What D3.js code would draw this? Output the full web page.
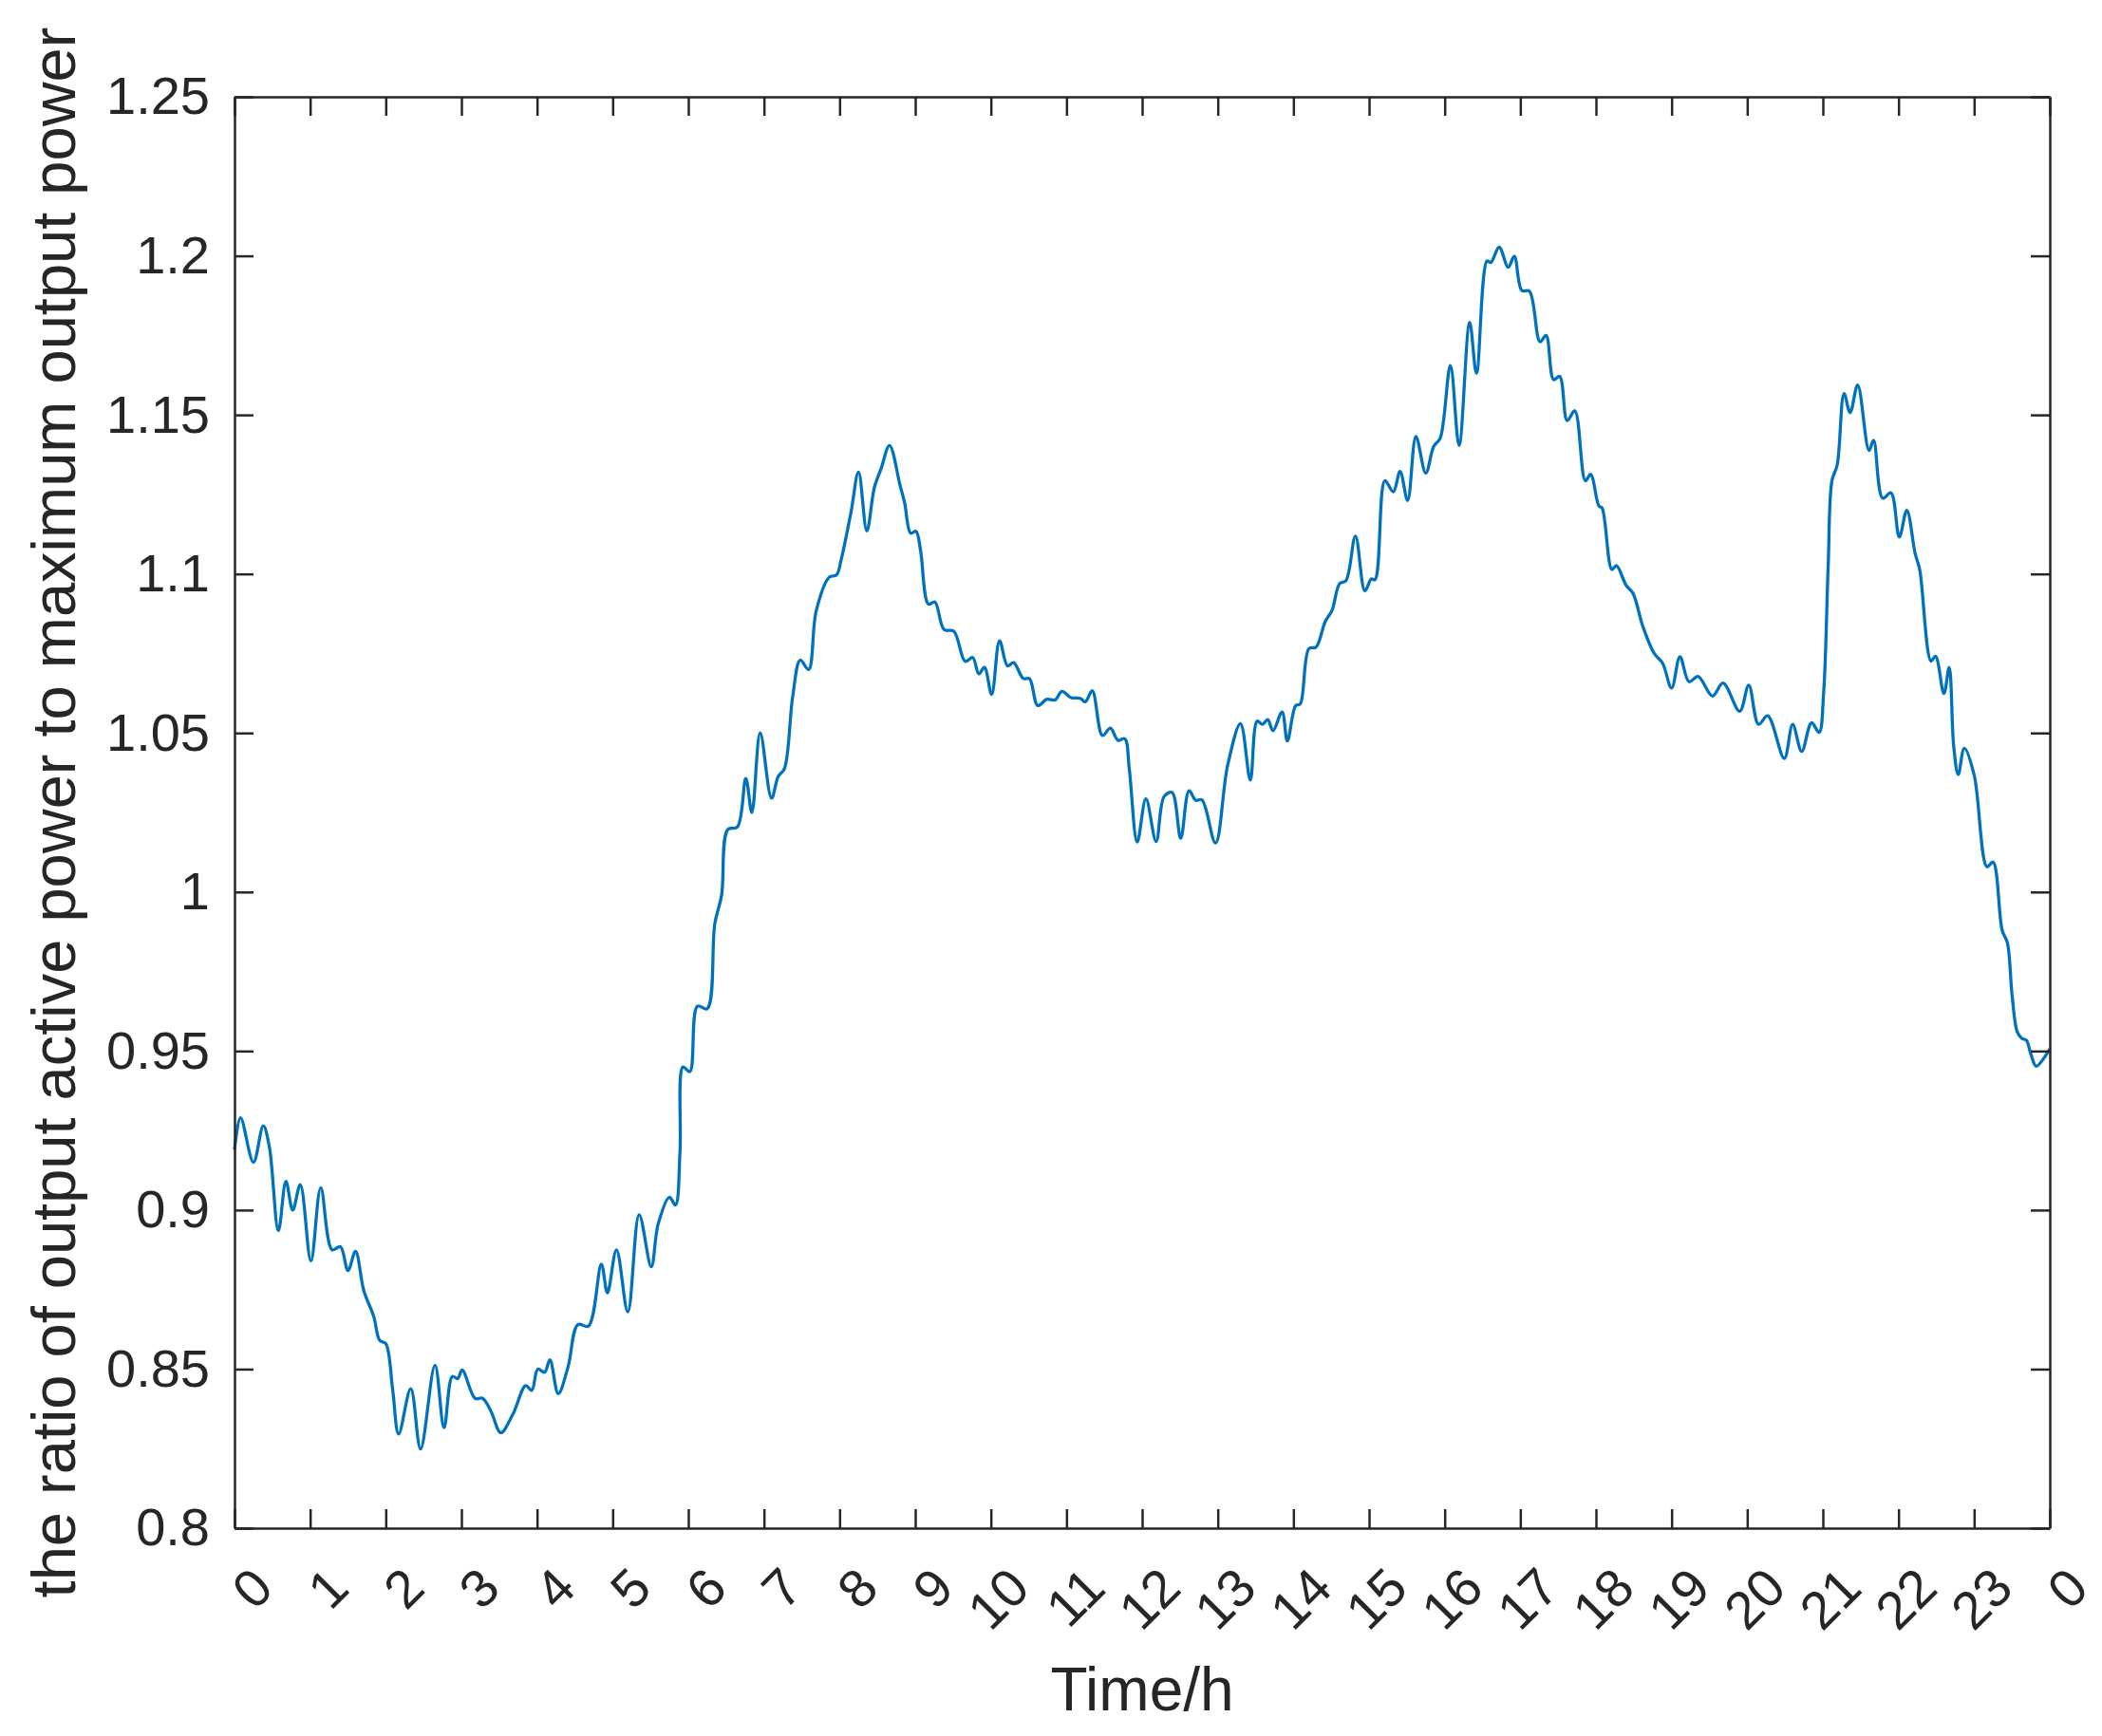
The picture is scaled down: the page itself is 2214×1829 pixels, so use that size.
<!DOCTYPE html>
<html>
<head>
<meta charset="utf-8">
<script src="https://cdn.jsdelivr.net/npm/d3@7"></script>
<style>
  html, body { margin: 0; padding: 0; background: #fff; }
  svg { display: block; font-family: "Liberation Sans", Arial, Helvetica, sans-serif; }
</style>
</head>
<body>
<div id="chart"></div>
<script>
// hours of the day and ratio values
const hours = [
  0.00, 0.08, 0.25, 0.38, 0.46, 0.58, 0.68, 0.77, 0.87, 1.01, 1.14, 1.29, 1.40, 1.50, 1.60, 1.71,
  1.84, 1.92, 2.00, 2.09, 2.17, 2.33, 2.46, 2.65, 2.77, 2.88, 2.95, 3.01, 3.18, 3.28, 3.39, 3.52,
  3.68, 3.85, 3.93, 4.01, 4.10, 4.17, 4.28, 4.41, 4.54, 4.68, 4.85, 4.93, 5.05, 5.20, 5.35, 5.51,
  5.60, 5.75, 5.83, 5.89, 5.93, 6.02, 6.12, 6.25, 6.35, 6.44, 6.52, 6.65, 6.76, 6.84, 6.95, 7.10,
  7.19, 7.27, 7.38, 7.48, 7.59, 7.69, 7.86, 7.96, 8.02, 8.15, 8.25, 8.36, 8.46, 8.55, 8.66, 8.80,
  8.86, 8.94, 9.01, 9.07, 9.175, 9.26, 9.38, 9.51, 9.66, 9.76, 9.84, 9.915, 10.01, 10.115, 10.22, 10.30,
  10.43, 10.51, 10.62, 10.74, 10.85, 10.94, 11.06, 11.18, 11.25, 11.34, 11.475, 11.58, 11.68, 11.77, 11.83, 11.935,
  12.05, 12.185, 12.29, 12.395, 12.51, 12.62, 12.71, 12.79, 12.97, 13.13, 13.30, 13.43, 13.52, 13.59, 13.66, 13.73,
  13.85, 13.92, 14.03, 14.09, 14.205, 14.30, 14.42, 14.51, 14.61, 14.695, 14.82, 14.945, 15.03, 15.08, 15.21, 15.32,
  15.41, 15.51, 15.62, 15.75, 15.855, 15.94, 16.075, 16.19, 16.33, 16.42, 16.56, 16.61, 16.72, 16.84, 16.92, 17.02,
  17.12, 17.26, 17.34, 17.44, 17.52, 17.62, 17.72, 17.86, 17.93, 18.04, 18.08, 18.21, 18.27, 18.40, 18.49, 18.62,
  18.77, 18.88, 19.00, 19.11, 19.23, 19.35, 19.54, 19.68, 19.90, 20.02, 20.15, 20.27, 20.49, 20.60, 20.72, 20.85,
  20.95, 21.01, 21.07, 21.12, 21.19, 21.28, 21.36, 21.46, 21.61, 21.67, 21.79, 21.90, 22.01, 22.11, 22.22, 22.28,
  22.43, 22.49, 22.60, 22.67, 22.73, 22.79, 22.87, 23.00, 23.17, 23.25, 23.37, 23.44, 23.50, 23.57, 23.63, 23.69,
  23.75, 23.82, 23.92, 24.00
];
const ratio = [
  0.919, 0.929, 0.915, 0.9265, 0.920, 0.8935, 0.909, 0.900, 0.908, 0.884, 0.907, 0.8875, 0.8885, 0.881, 0.887, 0.8746,
  0.8666, 0.859, 0.858, 0.8438, 0.8296, 0.8438, 0.8249, 0.8512, 0.8316, 0.8477, 0.847, 0.8497, 0.8408, 0.8408, 0.8368, 0.830,
  0.8358, 0.8448, 0.8433, 0.850, 0.849, 0.8529, 0.8423, 0.8507, 0.864, 0.8635, 0.883, 0.874, 0.8875, 0.868, 0.8985, 0.8822,
  0.8955, 0.904, 0.9016, 0.9185, 0.945, 0.9435, 0.9641, 0.9633, 0.990, 0.999, 1.0196, 1.0205, 1.0357, 1.025, 1.050, 1.0295,
  1.0364, 1.0387, 1.0615, 1.0729, 1.0699, 1.0883, 1.0989, 1.0997, 1.1044, 1.1193, 1.132, 1.1135, 1.1272, 1.1332, 1.1404, 1.1278,
  1.1223, 1.1128, 1.1134, 1.1074, 1.0905, 1.0912, 1.0825, 1.082, 1.0725, 1.0737, 1.0686, 1.0706, 1.0621, 1.079, 1.0711, 1.0721,
  1.0671, 1.0671, 1.0586, 1.0606, 1.0604, 1.0631, 1.0611, 1.0609, 1.0598, 1.0633, 1.0492, 1.0515, 1.0477, 1.0482, 1.0387, 1.0157,
  1.0293, 1.0159, 1.030, 1.0313, 1.0169, 1.0318, 1.0288, 1.029, 1.0154, 1.0398, 1.0529, 1.0352, 1.0537, 1.0527, 1.0542, 1.0507,
  1.0566, 1.0475, 1.0586, 1.0591, 1.0765, 1.077, 1.085, 1.0885, 1.0969, 1.0979, 1.1119, 1.0947, 1.0984, 1.0982, 1.1293, 1.1258,
  1.1322, 1.1231, 1.1432, 1.1317, 1.1401, 1.1426, 1.1655, 1.1404, 1.1791, 1.1631, 1.1984, 1.1979, 1.2027, 1.1964, 1.1999, 1.1891,
  1.1889, 1.173, 1.175, 1.1611, 1.1621, 1.1482, 1.1513, 1.1293, 1.1313, 1.1213, 1.1208, 1.1014, 1.1026, 1.0964, 1.0939, 1.0835,
  1.075, 1.072, 1.0641, 1.074, 1.0661, 1.0678, 1.0616, 1.0657, 1.0568, 1.065, 1.0527, 1.0554, 1.042, 1.0527, 1.0442, 1.0532,
  1.0502, 1.0626, 1.1024, 1.1293, 1.1343, 1.1567, 1.1507, 1.1594, 1.1388, 1.142, 1.1238, 1.1255, 1.1116, 1.120, 1.1064, 1.1014,
  1.0726, 1.0741, 1.0624, 1.0706, 1.0457, 1.0369, 1.0452, 1.0368, 1.0079, 1.0094, 0.988, 0.984, 0.968, 0.956, 0.954, 0.9534,
  0.949, 0.9452, 0.9477, 0.9507
];

// tick values and labels
const xTicks = d3.range(0, 25);
const xTickLabels = ["0","1","2","3","4","5","6","7","8","9","10","11","12","13","14","15",
                     "16","17","18","19","20","21","22","23","0"];
const yTicks = [0.8, 0.85, 0.9, 0.95, 1, 1.05, 1.1, 1.15, 1.2, 1.25];
const yTickLabels = ["0.8","0.85","0.9","0.95","1","1.05","1.1","1.15","1.2","1.25"];

const W = 2214, H = 1829;
const plot = {left: 247, right: 2159, top: 102, bottom: 1610};
const axisColor = "#262626";

const svg = d3.select("#chart").append("svg")
    .attr("width", W)
    .attr("height", H);

svg.append("rect").attr("width", W).attr("height", H).attr("fill", "#fff");

const x = d3.scaleLinear().domain([0, 24]).range([plot.left, plot.right]);
const y = d3.scaleLinear().domain([0.8, 1.25]).range([plot.bottom, plot.top]);

// line
const data = hours.map((h, i) => ({h: h, v: ratio[i]}));
const line = d3.line()
    .x(d => x(d.h))
    .y(d => y(d.v))
    .curve(d3.curveCatmullRom.alpha(0.5));

svg.append("path")
    .datum(data)
    .attr("fill", "none")
    .attr("stroke", "#0072BD")
    .attr("stroke-width", 3.3)
    .attr("stroke-linejoin", "round")
    .attr("d", line);

// axes (inward ticks, box)
function styleAxis(g) {
    g.selectAll(".domain").attr("stroke", axisColor).attr("stroke-width", 2.5);
    g.selectAll(".tick line").attr("stroke", axisColor).attr("stroke-width", 2.5);
}

const gBottom = svg.append("g")
    .attr("transform", `translate(0,${plot.bottom})`)
    .call(d3.axisBottom(x).tickValues(xTicks).tickSize(-20).tickSizeOuter(0)
        .tickFormat((d, i) => xTickLabels[i]));
styleAxis(gBottom);
gBottom.selectAll(".tick text")
    .attr("x", 0).attr("y", 0).attr("dy", "0.35em")
    .attr("text-anchor", "end")
    .attr("transform", "translate(29,52) rotate(-45)")
    .attr("fill", axisColor)
    .style("font-size", "56px")
    .style("font-family", "'Liberation Sans', Arial, sans-serif");

const gTop = svg.append("g")
    .attr("transform", `translate(0,${plot.top})`)
    .call(d3.axisTop(x).tickValues(xTicks).tickSize(-20).tickSizeOuter(0).tickFormat(""));
styleAxis(gTop);

const gLeft = svg.append("g")
    .attr("transform", `translate(${plot.left},0)`)
    .call(d3.axisLeft(y).tickValues(yTicks).tickSize(-20).tickSizeOuter(0).tickPadding(26)
        .tickFormat((d, i) => yTickLabels[i]));
styleAxis(gLeft);
gLeft.selectAll(".tick text")
    .attr("fill", axisColor)
    .style("font-size", "56px")
    .style("font-family", "'Liberation Sans', Arial, sans-serif");

const gRight = svg.append("g")
    .attr("transform", `translate(${plot.right},0)`)
    .call(d3.axisRight(y).tickValues(yTicks).tickSize(-20).tickSizeOuter(0).tickFormat(""));
styleAxis(gRight);

// axis labels
svg.append("text")
    .attr("x", (plot.left + plot.right) / 2)
    .attr("y", 1802)
    .attr("text-anchor", "middle")
    .attr("fill", axisColor)
    .style("font-size", "64px")
    .text("Time/h");

svg.append("text")
    .attr("transform", `translate(79,${(plot.top + plot.bottom) / 2}) rotate(-90)`)
    .attr("text-anchor", "middle")
    .attr("fill", axisColor)
    .style("font-size", "65px")
    .text("the ratio of output active power to maximum output power");
</script>
</body>
</html>
